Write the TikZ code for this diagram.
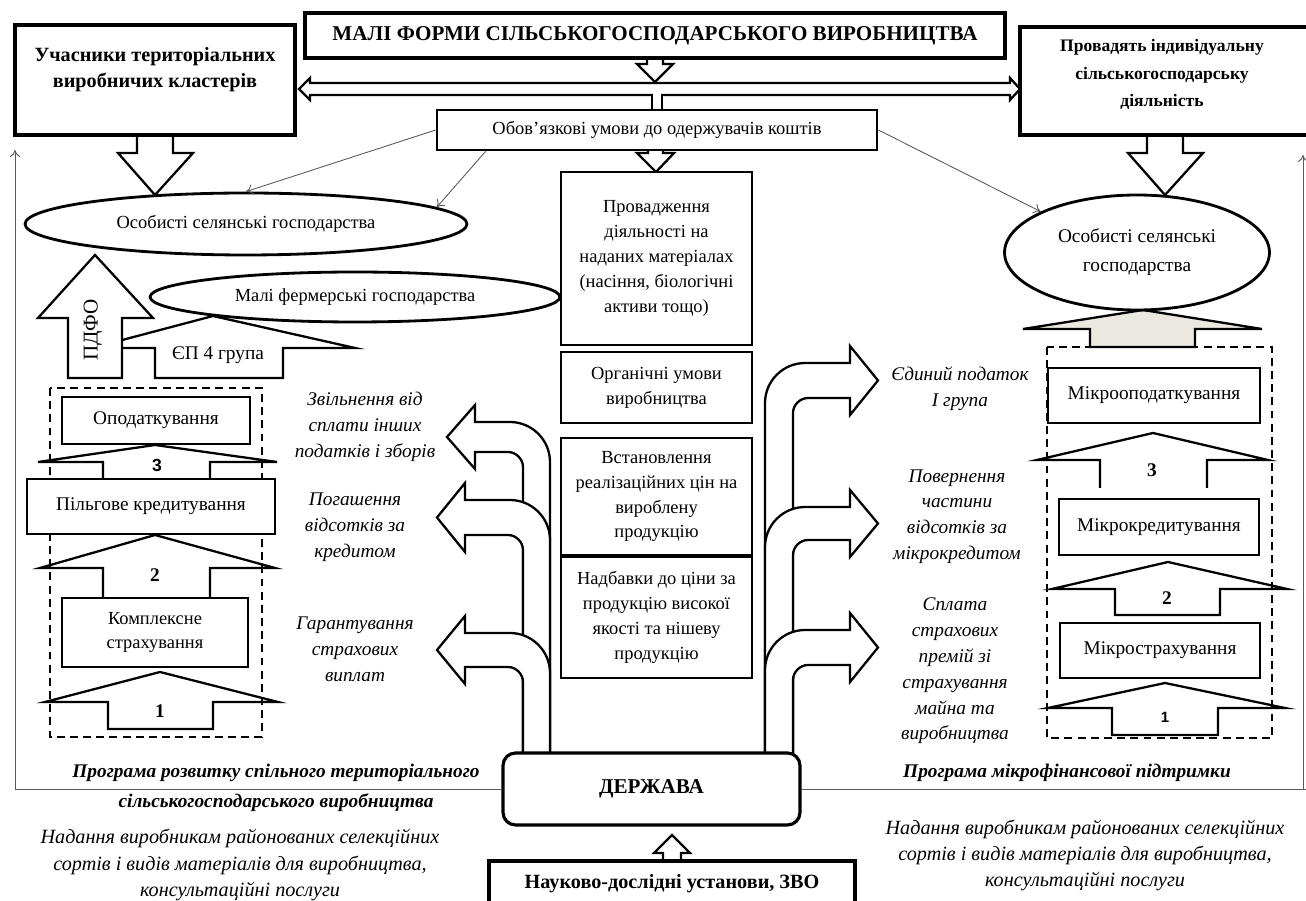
\documentclass[tikz,border=0pt]{standalone}
\usepackage{fontspec}
\setmainfont{Liberation Serif}
\newfontfamily\numsans{Liberation Sans}
\usepackage{tikz}
\usetikzlibrary{shapes.geometric,arrows.meta}

\definecolor{headfill}{HTML}{EAE8DF}

\tikzset{
	plainbox/.style={draw, line width=1.6pt, fill=white, inner sep=1pt, align=center, font=\fontsize{10.5}{14.2}\selectfont},
	stackbox/.style={plainbox, line width=1.4pt, font=\fontsize{11}{14}\selectfont},
	titlebox/.style={plainbox, line width=1.8pt, font=\bfseries\fontsize{12}{14}\selectfont},
	oval/.style={draw, ellipse, line width=1.6pt, fill=white, inner sep=0pt, align=center, font=\fontsize{10.5}{14}\selectfont},
	blockarrow/.style={draw, line width=1.3pt, fill=white, line join=miter},
	guide/.style={draw=black!65, line width=0.5pt},
	guidearrow/.style={guide, -{To[length=4pt,width=6pt]}},
	note/.style={align=center, font=\itshape\fontsize{11}{14.7}\selectfont},
	prognote/.style={align=center, font=\bfseries\itshape\fontsize{11}{17}\selectfont},
	numlabel/.style={font=\bfseries\fontsize{11}{12}\selectfont},
	dashframe/.style={draw, line width=1.6pt, dash pattern=on 4.5pt off 3pt},
}

% bent block arrows: #1 outer y, #2 inner y, #3 head base x, #4 tip x
\newcommand{\leftbend}[4]{%
	\draw[blockarrow] (550,760) -- (550,#1+40) .. controls (550,#1+18) and (532,#1) .. (510,#1)
		-- (#3,#1) -- (#3,#1-17) -- (#4,{(#1+#2)/2}) -- (#3,#2+17) -- (#3,#2)
		-- (508,#2) .. controls (516,#2) and (523,#2+7) .. (523,#2+15) -- (523,760) -- cycle;}
\newcommand{\rightbend}[4]{%
	\draw[blockarrow] (765,760) -- (765,#1+40) .. controls (765,#1+18) and (783,#1) .. (805,#1)
		-- (#3,#1) -- (#3,#1-17) -- (#4,{(#1+#2)/2}) -- (#3,#2+17) -- (#3,#2)
		-- (808,#2) .. controls (800,#2) and (793,#2+7) .. (793,#2+15) -- (793,760) -- cycle;}

\begin{document}
\begin{tikzpicture}[x=0.02cm, y=-0.02cm]
	\useasboundingbox (0,0) rectangle (1306,901);

	%block arrows at the top
	\draw[blockarrow] (310,83) -- (1010,83) -- (1010,78) -- (1020,89) -- (1010,100) -- (1010,95)
		-- (310,95) -- (310,100) -- (299,89) -- (310,78) -- cycle;
	\draw[blockarrow] (647,56) -- (647,64) -- (637,64) -- (655,82) -- (673,64) -- (663,64) -- (663,56);
	\fill[white] (653,93) rectangle (661,111);
	\draw[line width=1.3pt] (652,95) -- (652,111) (662,95) -- (662,111);
	\draw[blockarrow] (648,149) -- (648,153) -- (637,153) -- (656,172) -- (674,153) -- (663,153) -- (663,149);
	\draw[blockarrow] (137,134) -- (137,153) -- (118,153) -- (155,195) -- (193,153) -- (173,153) -- (173,134);
	\draw[blockarrow] (1147,134) -- (1147,153) -- (1128,153) -- (1165,195) -- (1203,153) -- (1183,153) -- (1183,134);

	%tax arrows
	\draw[blockarrow] (155,378) -- (155,348) -- (92,348) -- (213,316) -- (355,348) -- (283,348) -- (283,378) -- cycle;
	\draw[blockarrow] (68,378) -- (68,318) -- (38,318) -- (95,255) -- (153,318) -- (122,318) -- (122,378) -- cycle;
	\draw[blockarrow, fill=headfill] (1090,347) -- (1090,329) -- (1023,329) -- (1143,310) -- (1262,329) -- (1195,329) -- (1195,347) -- cycle;

	%step arrows
	\draw[blockarrow] (103,480) -- (103,462) -- (38,462) -- (155,445) -- (277,462) -- (210,462) -- (210,480);
	\draw[blockarrow] (103,599) -- (103,568) -- (40,568) -- (155,535) -- (275,568) -- (210,568) -- (210,599);
	\draw[blockarrow] (108,729) -- (108,702) -- (45,702) -- (160,672) -- (278,702) -- (213,702) -- (213,729) -- cycle;
	\draw[blockarrow] (1100,488) -- (1100,460) -- (1037,460) -- (1153,433) -- (1268,460) -- (1207,460) -- (1207,488);
	\draw[blockarrow] (1115,615) -- (1115,589) -- (1052,589) -- (1168,562) -- (1287,589) -- (1220,589) -- (1220,615) -- cycle;
	\draw[blockarrow] (1112,735) -- (1112,708) -- (1048,708) -- (1165,683) -- (1285,708) -- (1218,708) -- (1218,735) -- cycle;

	%bent arrows
	\leftbend{422}{452}{475}{447}
	\leftbend{500}{535}{465}{437}
	\leftbend{633}{667}{465}{437}
	\rightbend{363}{398}{850}{878}
	\rightbend{507}{540}{850}{878}
	\rightbend{630}{665}{850}{878}

	%dashed frames
	\draw[dashframe] (50,388) rectangle (262,737);
	\draw[dashframe] (1047,347) rectangle (1272,738);

	%boxes
	\node[titlebox, minimum width=14cm, minimum height=0.9cm] (mali) at (655,35.5)
		{МАЛІ ФОРМИ СІЛЬСЬКОГОСПОДАРСЬКОГО ВИРОБНИЦТВА};
	\node[plainbox, line width=1.8pt, minimum width=5.6cm, minimum height=2.2cm] (uchas) at (155,80) {};
	\node[align=center, font=\bfseries\fontsize{11.5}{14.7}\selectfont] (uchastxt) at (155,70)
		{Учасники територіальних\\виробничих кластерів};
	\node[plainbox, line width=1.8pt, minimum width=6cm, minimum height=2.16cm] (provad) at (1170,81) {};
	\node[align=center, font=\bfseries\fontsize{10}{15.9}\selectfont] (provadtxt) at (1162,74.5)
		{Провадять індивідуальну\\сільськогосподарську\\діяльність};
	\node[plainbox, minimum width=8.8cm, minimum height=0.8cm] (obov) at (657,130)
		{Обов’язкові умови до одержувачів коштів};
	\node[oval, minimum width=8.84cm, minimum height=1.24cm] (osl) at (246,224)
		{Особисті селянські господарства};
	\node[oval, minimum width=5.3cm, minimum height=2.3cm, font=\fontsize{11}{16.4}\selectfont] (osr) at (1137,252.5)
		{Особисті селянські\\господарства};
	\node[oval, minimum width=8.2cm, minimum height=1.0cm] (mfg) at (355,297)
		{Малі фермерські господарства};

	\node[plainbox, minimum width=3.82cm, minimum height=3.46cm] (m1) at (656.5,258.5)
		{Провадження\\діяльності на\\наданих матеріалах\\(насіння, біологічні\\активи тощо)};
	\node[plainbox, minimum width=3.82cm, minimum height=1.42cm] (m2) at (656.5,387.5)
		{Органічні умови\\виробництва};
	\node[plainbox, minimum width=3.82cm, minimum height=2.34cm] (m3) at (656.5,496.5)
		{Встановлення\\реалізаційних цін на\\вироблену\\продукцію};
	\node[plainbox, minimum width=3.82cm, minimum height=2.42cm] (m4) at (656.5,617.5)
		{Надбавки до ціни за\\продукцію високої\\якості та нішеву\\продукцію};

	\node[stackbox, minimum width=3.76cm, minimum height=0.94cm] (opod) at (156,420.5) {Оподаткування};
	\node[stackbox, minimum width=4.96cm, minimum height=1.1cm] (pilg) at (151,506.5) {Пільгове кредитування};
	\node[stackbox, minimum width=3.72cm, minimum height=1.38cm, font=\fontsize{10.5}{14}\selectfont] (kompl) at (155,632.5)
		{Комплексне\\страхування};
	\node[stackbox, minimum width=4.24cm, minimum height=1.1cm] (mopod) at (1154,395.5) {Мікрооподаткування};
	\node[stackbox, minimum width=4cm, minimum height=1.12cm] (mkred) at (1159,527) {Мікрокредитування};
	\node[stackbox, minimum width=4cm, minimum height=1.1cm] (mstrah) at (1160,650.5) {Мікрострахування};

	\node[titlebox, rounded corners=0.25cm, minimum width=5.94cm, minimum height=1.44cm] (derzh) at (651.5,789) {ДЕРЖАВА};
	\draw[blockarrow] (663,862) -- (663,853) -- (654,853) -- (672,835) -- (690,853) -- (681,853) -- (681,862);
	\node[titlebox, font=\bfseries\fontsize{11.5}{14}\selectfont, minimum width=7.32cm, minimum height=0.92cm] (nauk) at (672,884)
		{Науково-дослідні установи, ЗВО};

	%numbers
	\node[numlabel, font=\bfseries\numsans\fontsize{10}{12}\selectfont] (n3l) at (157,465) {3};
	\node[numlabel] (n2l) at (155,575) {2};
	\node[numlabel] (n1l) at (160,711) {1};
	\node[numlabel] (n3r) at (1152,470) {3};
	\node[numlabel] (n2r) at (1167,598) {2};
	\node[numlabel, font=\bfseries\numsans\fontsize{8.5}{10}\selectfont] (n1r) at (1165,717) {1};

	%labels
	\node[font=\fontsize{12}{14}\selectfont, rotate=90] (pdfo) at (93,330) {ПДФО};
	\node[font=\fontsize{11}{14}\selectfont] (ep4) at (218,355) {ЄП 4 група};
	\node[note] (zvil) at (365,427) {Звільнення від\\сплати інших\\податків і зборів};
	\node[note] (pogash) at (355,527) {Погашення\\відсотків за\\кредитом};
	\node[note] (garant) at (355,649) {Гарантування\\страхових\\виплат};
	\node[note] (edyn) at (960,389) {Єдиний податок\\І група};
	\node[note] (povern) at (957,516.5) {Повернення\\частини\\відсотків за\\мікрокредитом};
	\node[note] (splata) at (955,671) {Сплата\\страхових\\премій зі\\страхування\\майна та\\виробництва};
	\node[prognote] (progl) at (276,788) {Програма розвитку спільного територіального\\сільськогосподарського виробництва};
	\node[prognote] (progr) at (1067,773) {Програма мікрофінансової підтримки};
	\node[note, font=\itshape\fontsize{11.5}{15.3}\selectfont] (nadl) at (240,865)
		{Надання виробникам районованих селекційних\\сортів і видів матеріалів для виробництва,\\консультаційні послуги};
	\node[note, font=\itshape\fontsize{11.5}{14.8}\selectfont] (nadr) at (1085,855)
		{Надання виробникам районованих селекційних\\сортів і видів матеріалів для виробництва,\\консультаційні послуги};

	%thin connectors
	\coordinate (lb) at (15,789);
	\coordinate (lt) at (15,150);
	\coordinate (rb) at (1306,789);
	\coordinate (rbb) at (1303,789);
	\coordinate (rt) at (1303,155);
	\draw[guidearrow] (lb) -- (lt);
	\draw[guidearrow] (rbb) -- (rt);
	\draw[guide] (lb) -- (derzh.west);
	\draw[guide] (derzh.east) -- (rb);
	\draw[guidearrow] (obov.west) -- (osl.north);
	\draw[guidearrow] ([xshift=1cm]obov.south west) -- (osl.5);
	\draw[guidearrow] (obov.east) -- (osr.157);
\end{tikzpicture}
\end{document}
